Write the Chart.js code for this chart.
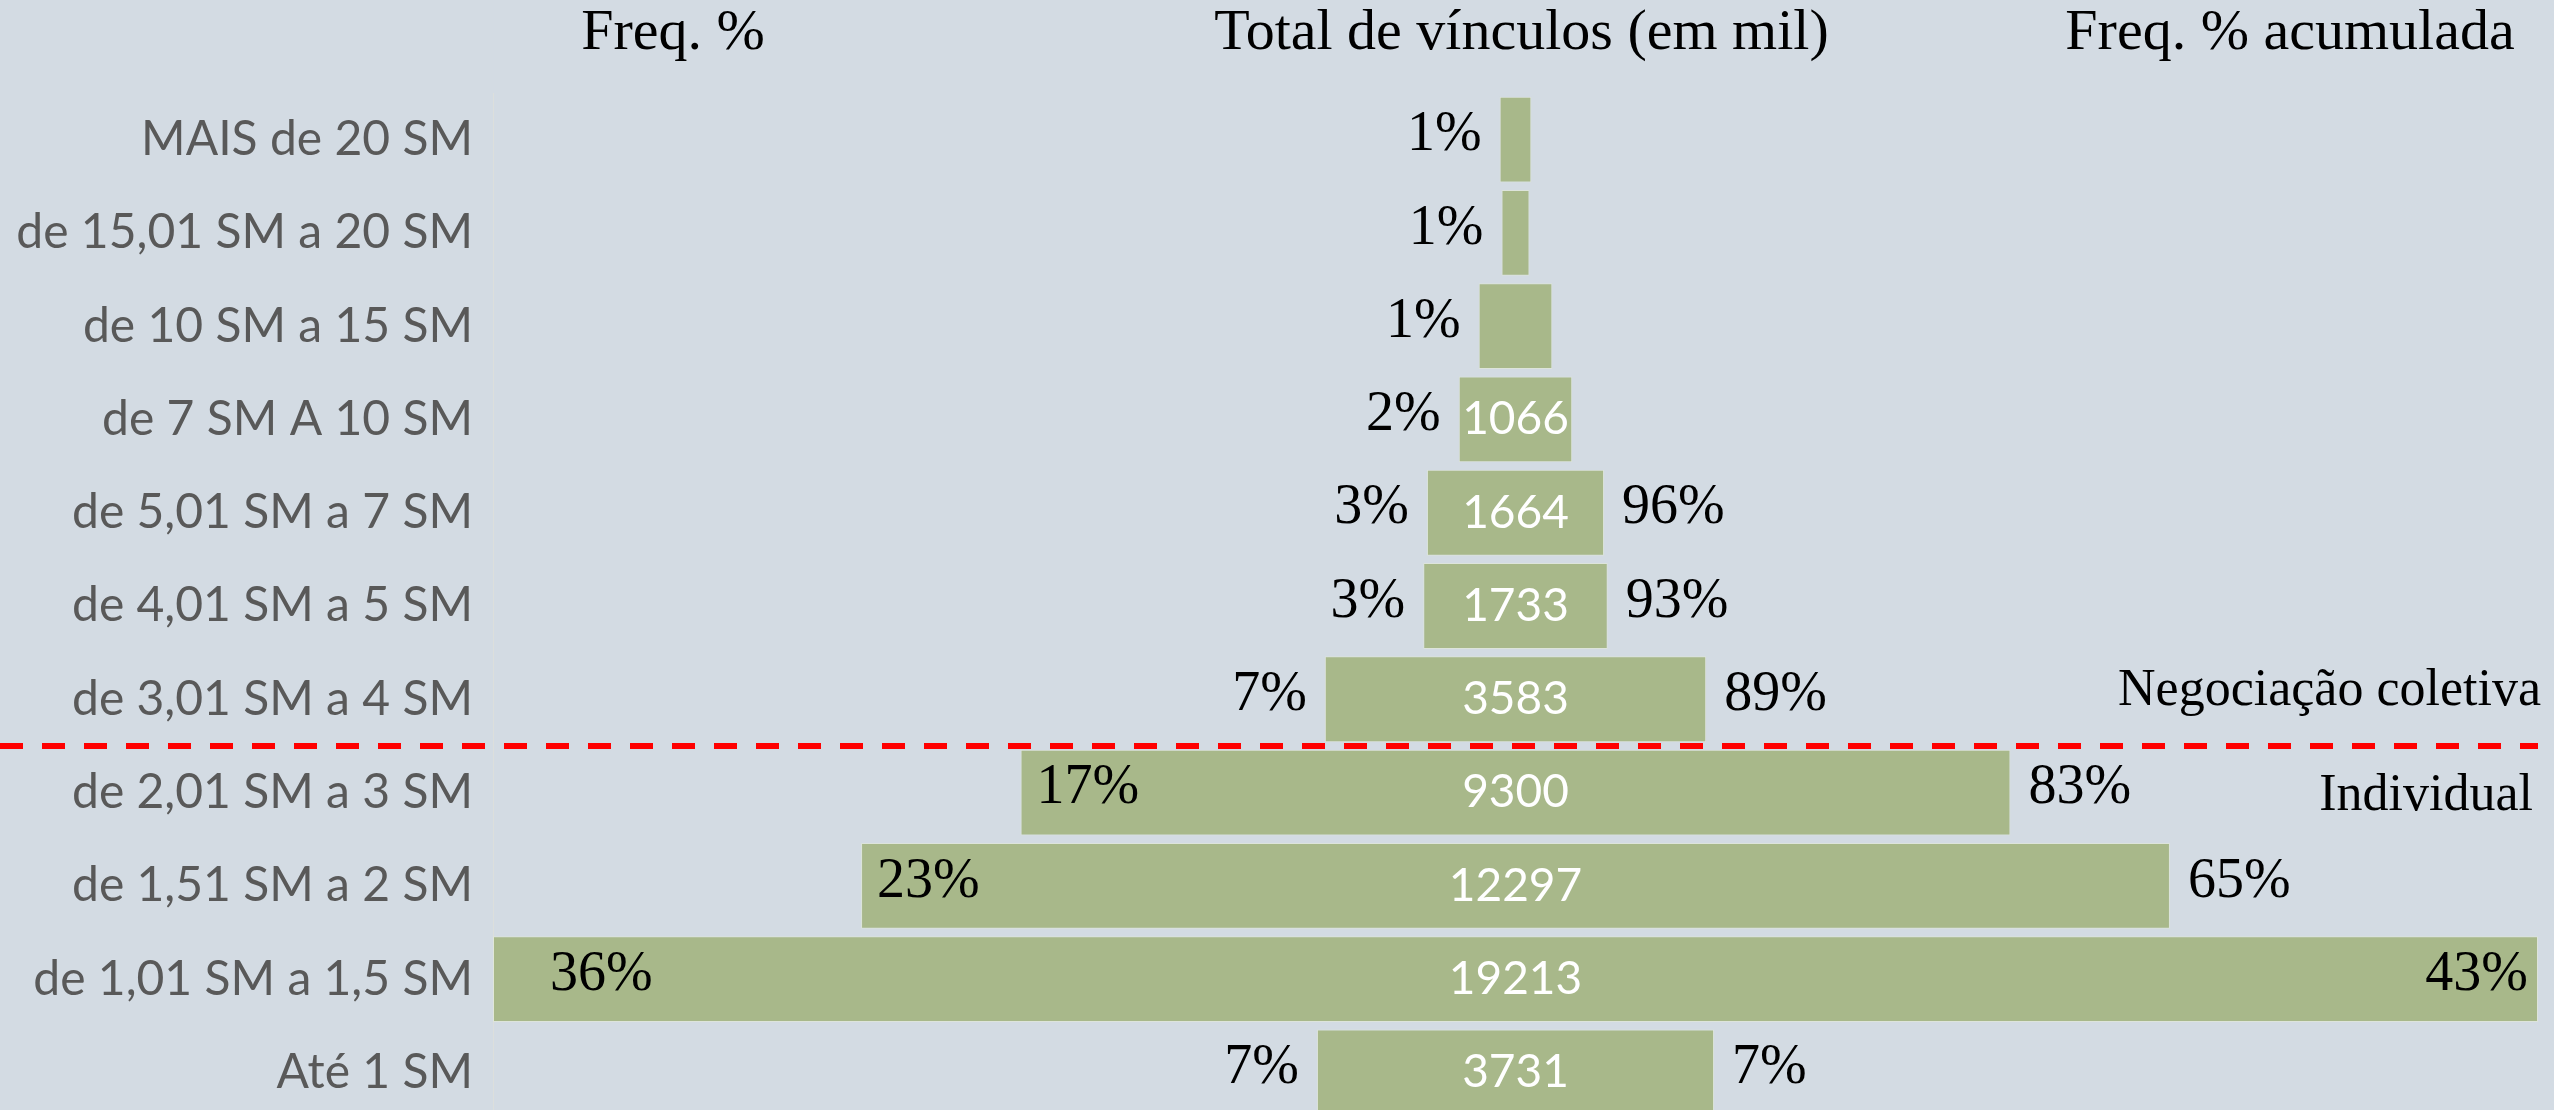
<!DOCTYPE html>
<html>
<head>
<meta charset="utf-8">
<script src="https://cdn.jsdelivr.net/npm/chart.js@4/dist/chart.umd.min.js"></script>
<style>
  html, body { margin: 0; padding: 0; background: #d3dbe3; overflow: hidden; }
  canvas { display: block; }
</style>
</head>
<body>
<canvas id="c" width="2554" height="1130"></canvas>
<script>
const faixas = [
  "MAIS de 20 SM", "de 15,01 SM a 20 SM", "de 10 SM a 15 SM", "de 7 SM A 10 SM",
  "de 5,01 SM a 7 SM", "de 4,01 SM a 5 SM", "de 3,01 SM a 4 SM", "de 2,01 SM a 3 SM",
  "de 1,51 SM a 2 SM", "de 1,01 SM a 1,5 SM", "Até 1 SM"
];
const vinculos = [298, 263, 692, 1066, 1664, 1733, 3583, 9300, 12297, 19213, 3731];
const freqPct = ["1%", "1%", "1%", "2%", "3%", "3%", "7%", "17%", "23%", "36%", "7%"];
const freqAcum = ["", "", "", "", "96%", "93%", "89%", "83%", "65%", "43%", "7%"];
const cabecalhos = ["Freq. %", "Total de vínculos (em mil)", "Freq. % acumulada"];
const grupos = ["Negociação coletiva", "Individual"];
const corte = 6; // last row of "Negociação coletiva"

const maxV = Math.max(...vinculos);
const serif = "'Liberation Serif', serif";
const sans = "Lato, sans-serif";

const rotulos = {
  id: "rotulos",
  afterDatasetsDraw(chart) {
    const { ctx, chartArea, scales: { x, y } } = chart;
    const meta = chart.getDatasetMeta(0);
    ctx.save();
    ctx.textBaseline = "middle";
    meta.data.forEach((bar, i) => {
      const p = bar.getProps(["x", "base", "y"], true);
      const left = Math.min(p.x, p.base), right = Math.max(p.x, p.base);

      // valor dentro da barra
      ctx.font = "46px " + sans;
      ctx.fillStyle = "#ffffff";
      ctx.textAlign = "center";
      const txt = String(vinculos[i]);
      if (ctx.measureText(txt).width + 6 < right - left) ctx.fillText(txt, x.getPixelForValue(0), p.y);

      ctx.font = "56px " + serif;
      ctx.fillStyle = "#000000";
      // freq %
      if (left - chartArea.left > 600) {
        ctx.textAlign = "right";
        ctx.fillText(freqPct[i], left - 18, p.y - 4);
      } else {
        ctx.textAlign = "left";
        ctx.fillText(freqPct[i], Math.max(left + 16, chartArea.left + 57), p.y - 4);
      }
      // freq acumulada
      if (freqAcum[i]) {
        const w = ctx.measureText(freqAcum[i]).width;
        if (right + 18 + w > chart.width) {
          ctx.textAlign = "right";
          ctx.fillText(freqAcum[i], right - 10, p.y - 4);
        } else {
          ctx.textAlign = "left";
          ctx.fillText(freqAcum[i], right + 18, p.y - 4);
        }
      }
    });

    // cabecalhos
    ctx.font = "58px " + serif;
    ctx.textAlign = "center";
    ctx.fillText(cabecalhos[0], 673, 34);
    ctx.fillText(cabecalhos[1], x.getPixelForValue(0) + 6, 34);
    ctx.fillText(cabecalhos[2], 2290, 34);

    // linha de corte
    const yl = (y.getPixelForValue(corte) + y.getPixelForValue(corte + 1)) / 2;
    ctx.strokeStyle = "#ff0000";
    ctx.lineWidth = 6;
    ctx.setLineDash([23, 19]);
    ctx.beginPath();
    ctx.moveTo(0, yl);
    ctx.lineTo(chartArea.right, yl);
    ctx.stroke();

    ctx.font = "52px " + serif;
    ctx.textAlign = "right";
    ctx.fillText(grupos[0], 2541, y.getPixelForValue(corte) - 8);
    ctx.fillText(grupos[1], 2533, y.getPixelForValue(corte + 1) + 4);
    ctx.restore();
  }
};

new Chart(document.getElementById("c"), {
  type: "bar",
  data: {
    labels: faixas,
    datasets: [{
      data: vinculos.map(v => [-v / 2, v / 2]),
      backgroundColor: "#a8b88a",
      borderColor: "rgba(225,232,215,0.7)",
      borderWidth: 1,
      borderSkipped: false,
      categoryPercentage: 1,
      barPercentage: 0.92
    }]
  },
  options: {
    indexAxis: "y",
    responsive: false,
    animation: false,
    layout: { padding: { top: 93, bottom: 11, right: 16, left: 0 } },
    plugins: { legend: { display: false }, tooltip: { enabled: false } },
    scales: {
      x: { display: false, min: -maxV / 2, max: maxV / 2 },
      y: {
        grid: { display: false },
        border: { display: true, color: "#dcdfdc", width: 1 },
        ticks: { color: "#595959", font: { family: "Lato", size: 48 }, padding: 12 },
        afterFit(scale) {
          scale.width = 493;
          scale.paddingTop = 0;
          scale.paddingBottom = 0;
        }
      }
    }
  },
  plugins: [rotulos]
});
</script>
</body>
</html>
